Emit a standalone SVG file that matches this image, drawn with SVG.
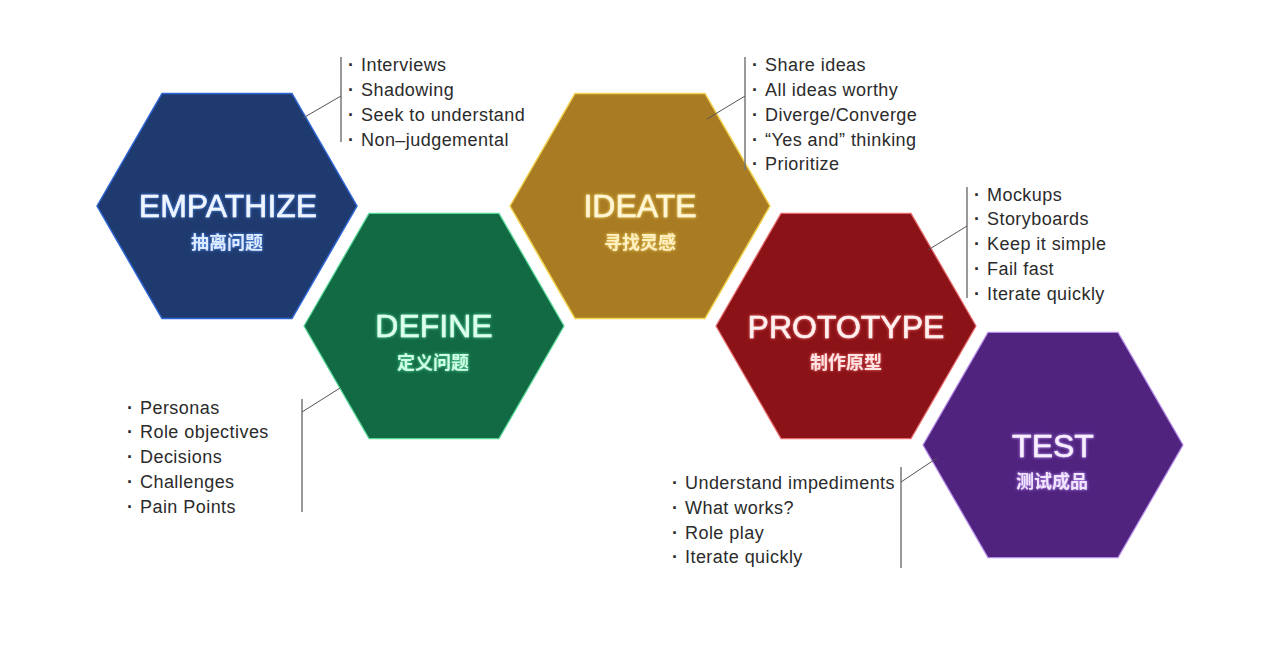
<svg xmlns="http://www.w3.org/2000/svg" width="1280" height="652" viewBox="0 0 1280 652">
  <defs>
    <path id="hex" d="M-130,0 L-65,-112.6 L65,-112.6 L130,0 L65,112.6 L-65,112.6 Z"/>
    <filter id="glowBlue" x="-20%" y="-40%" width="140%" height="180%">
      <feGaussianBlur in="SourceAlpha" stdDeviation="1.5" result="b"/>
      <feFlood flood-color="#4f95ff"/>
      <feComposite in2="b" operator="in" result="g"/>
      <feMerge><feMergeNode in="g"/><feMergeNode in="SourceGraphic"/></feMerge>
    </filter>
    <filter id="glowGreen" x="-20%" y="-40%" width="140%" height="180%">
      <feGaussianBlur in="SourceAlpha" stdDeviation="1.5" result="b"/>
      <feFlood flood-color="#5ee6a6"/>
      <feComposite in2="b" operator="in" result="g"/>
      <feMerge><feMergeNode in="g"/><feMergeNode in="SourceGraphic"/></feMerge>
    </filter>
    <filter id="glowGold" x="-20%" y="-40%" width="140%" height="180%">
      <feGaussianBlur in="SourceAlpha" stdDeviation="1.5" result="b"/>
      <feFlood flood-color="#ffe066"/>
      <feComposite in2="b" operator="in" result="g"/>
      <feMerge><feMergeNode in="g"/><feMergeNode in="SourceGraphic"/></feMerge>
    </filter>
    <filter id="glowRed" x="-20%" y="-40%" width="140%" height="180%">
      <feGaussianBlur in="SourceAlpha" stdDeviation="1.5" result="b"/>
      <feFlood flood-color="#ff7a7a"/>
      <feComposite in2="b" operator="in" result="g"/>
      <feMerge><feMergeNode in="g"/><feMergeNode in="SourceGraphic"/></feMerge>
    </filter>
    <filter id="glowPurple" x="-20%" y="-40%" width="140%" height="180%">
      <feGaussianBlur in="SourceAlpha" stdDeviation="1.5" result="b"/>
      <feFlood flood-color="#c89cff"/>
      <feComposite in2="b" operator="in" result="g"/>
      <feMerge><feMergeNode in="g"/><feMergeNode in="SourceGraphic"/></feMerge>
    </filter>
  </defs>
  <style>
    .title { font-family: "Liberation Sans", Arial, sans-serif; font-size: 32px; text-anchor: middle; stroke-width: 0.5; }
    .cn { font-family: "Noto Sans CJK SC", sans-serif; font-size: 18px; font-weight: 700; text-anchor: middle; }
    .item { font-family: "Liberation Sans", Arial, sans-serif; font-size: 18px; fill: #2b2b2b; letter-spacing: 0.45px; }
    .dot { font-weight: 700; }
    .lead { stroke: #555555; stroke-width: 1; fill: none; }
    .vbar { stroke: #777777; stroke-width: 1.5; fill: none; }
  </style>
  <rect width="1280" height="652" fill="#ffffff"/>

  <g id="empathize">
    <use href="#hex" transform="translate(227,206)" fill="#1f3a6e" stroke="#2f66d6" stroke-width="1.5"/>
    <text class="title" x="228" y="217" fill="#eef5ff" stroke="#eef5ff" filter="url(#glowBlue)">EMPATHIZE</text>
    <text class="cn" x="227" y="249" fill="#dcebff" filter="url(#glowBlue)">抽离问题</text>
  </g>

  <g id="define">
    <use href="#hex" transform="translate(434,326)" fill="#126a45" stroke="#58d897" stroke-width="1.2"/>
    <text class="title" x="434" y="337" fill="#dcffee" stroke="#dcffee" filter="url(#glowGreen)">DEFINE</text>
    <text class="cn" x="433" y="369" fill="#cfffe6" filter="url(#glowGreen)">定义问题</text>
  </g>

  <g id="ideate">
    <use href="#hex" transform="translate(640,206)" fill="#a97c23" stroke="#f3d34f" stroke-width="1.5"/>
    <text class="title" x="640" y="217" fill="#fff6d6" stroke="#fff6d6" filter="url(#glowGold)">IDEATE</text>
    <text class="cn" x="640" y="249" fill="#fff0c4" filter="url(#glowGold)">寻找灵感</text>
  </g>

  <g id="prototype">
    <use href="#hex" transform="translate(846,326)" fill="#8b1216" stroke="#e86b6b" stroke-width="1.2"/>
    <text class="title" x="846" y="338" fill="#fff0f0" stroke="#fff0f0" filter="url(#glowRed)">PROTOTYPE</text>
    <text class="cn" x="846" y="369" fill="#ffe4e4" filter="url(#glowRed)">制作原型</text>
  </g>

  <g id="test">
    <use href="#hex" transform="translate(1053,445)" fill="#50237f" stroke="#b58be8" stroke-width="1.2"/>
    <text class="title" x="1053" y="457" fill="#f7eeff" stroke="#f7eeff" filter="url(#glowPurple)">TEST</text>
    <text class="cn" x="1052" y="488" fill="#f1e4ff" filter="url(#glowPurple)">测试成品</text>
  </g>

  <g id="connectors">
    <line class="vbar" x1="341" y1="57" x2="341" y2="142"/>
    <line class="lead" x1="341" y1="96" x2="303" y2="118"/>

    <line class="vbar" x1="745" y1="57" x2="745" y2="170"/>
    <line class="lead" x1="745" y1="96" x2="707" y2="119"/>

    <line class="vbar" x1="967" y1="187" x2="967" y2="298"/>
    <line class="lead" x1="967" y1="226" x2="928" y2="250"/>

    <line class="vbar" x1="302" y1="399" x2="302" y2="512"/>
    <line class="lead" x1="302" y1="412" x2="340" y2="388"/>

    <line class="vbar" x1="901" y1="467" x2="901" y2="568"/>
    <line class="lead" x1="901" y1="482" x2="937" y2="458"/>
  </g>

  <g id="list-empathize">
    <text class="item" y="71"><tspan class="dot" x="348">·</tspan><tspan x="361">Interviews</tspan></text>
    <text class="item" y="96"><tspan class="dot" x="348">·</tspan><tspan x="361">Shadowing</tspan></text>
    <text class="item" y="121"><tspan class="dot" x="348">·</tspan><tspan x="361">Seek to understand</tspan></text>
    <text class="item" y="146"><tspan class="dot" x="348">·</tspan><tspan x="361">Non–judgemental</tspan></text>
  </g>

  <g id="list-ideate">
    <text class="item" y="71"><tspan class="dot" x="752">·</tspan><tspan x="765">Share ideas</tspan></text>
    <text class="item" y="96"><tspan class="dot" x="752">·</tspan><tspan x="765">All ideas worthy</tspan></text>
    <text class="item" y="121"><tspan class="dot" x="752">·</tspan><tspan x="765">Diverge/Converge</tspan></text>
    <text class="item" y="146"><tspan class="dot" x="752">·</tspan><tspan x="765">“Yes and” thinking</tspan></text>
    <text class="item" y="170"><tspan class="dot" x="752">·</tspan><tspan x="765">Prioritize</tspan></text>
  </g>

  <g id="list-prototype">
    <text class="item" y="201"><tspan class="dot" x="974">·</tspan><tspan x="987">Mockups</tspan></text>
    <text class="item" y="225"><tspan class="dot" x="974">·</tspan><tspan x="987">Storyboards</tspan></text>
    <text class="item" y="250"><tspan class="dot" x="974">·</tspan><tspan x="987">Keep it simple</tspan></text>
    <text class="item" y="275"><tspan class="dot" x="974">·</tspan><tspan x="987">Fail fast</tspan></text>
    <text class="item" y="300"><tspan class="dot" x="974">·</tspan><tspan x="987">Iterate quickly</tspan></text>
  </g>

  <g id="list-define">
    <text class="item" y="414"><tspan class="dot" x="127">·</tspan><tspan x="140">Personas</tspan></text>
    <text class="item" y="438"><tspan class="dot" x="127">·</tspan><tspan x="140">Role objectives</tspan></text>
    <text class="item" y="463"><tspan class="dot" x="127">·</tspan><tspan x="140">Decisions</tspan></text>
    <text class="item" y="488"><tspan class="dot" x="127">·</tspan><tspan x="140">Challenges</tspan></text>
    <text class="item" y="513"><tspan class="dot" x="127">·</tspan><tspan x="140">Pain Points</tspan></text>
  </g>

  <g id="list-test">
    <text class="item" y="489"><tspan class="dot" x="672">·</tspan><tspan x="685">Understand impediments</tspan></text>
    <text class="item" y="514"><tspan class="dot" x="672">·</tspan><tspan x="685">What works?</tspan></text>
    <text class="item" y="539"><tspan class="dot" x="672">·</tspan><tspan x="685">Role play</tspan></text>
    <text class="item" y="563"><tspan class="dot" x="672">·</tspan><tspan x="685">Iterate quickly</tspan></text>
  </g>
</svg>
